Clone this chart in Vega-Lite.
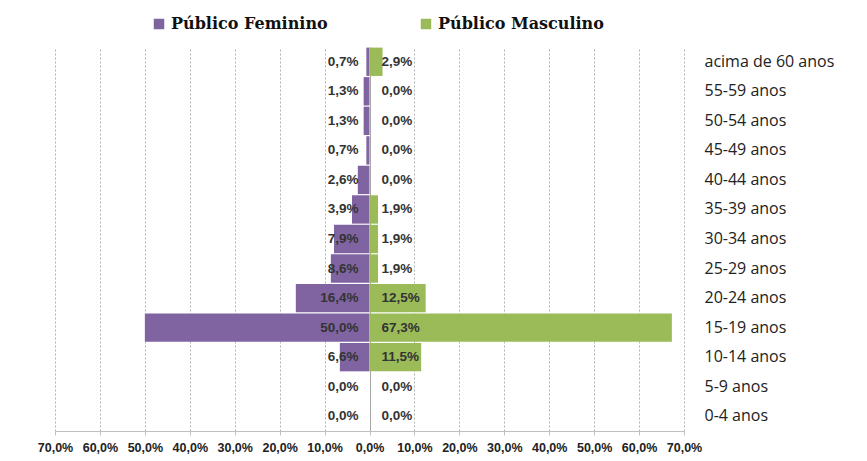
{
  "$schema": "https://vega.github.io/schema/vega-lite/v6.json",
  "width": 629,
  "height": 384,
  "autosize": {"type": "none"},
  "padding": {"left": 55, "top": 47, "right": 183, "bottom": 30},
  "background": "white",
  "config": {"view": {"stroke": null}},
  "data": {
    "values": [
      {"faixa": "acima de 60 anos", "sexo": "Público Feminino", "pct": -0.7, "rotulo": "0,7%"},
      {"faixa": "55-59 anos", "sexo": "Público Feminino", "pct": -1.3, "rotulo": "1,3%"},
      {"faixa": "50-54 anos", "sexo": "Público Feminino", "pct": -1.3, "rotulo": "1,3%"},
      {"faixa": "45-49 anos", "sexo": "Público Feminino", "pct": -0.7, "rotulo": "0,7%"},
      {"faixa": "40-44 anos", "sexo": "Público Feminino", "pct": -2.6, "rotulo": "2,6%"},
      {"faixa": "35-39 anos", "sexo": "Público Feminino", "pct": -3.9, "rotulo": "3,9%"},
      {"faixa": "30-34 anos", "sexo": "Público Feminino", "pct": -7.9, "rotulo": "7,9%"},
      {"faixa": "25-29 anos", "sexo": "Público Feminino", "pct": -8.6, "rotulo": "8,6%"},
      {"faixa": "20-24 anos", "sexo": "Público Feminino", "pct": -16.4, "rotulo": "16,4%"},
      {"faixa": "15-19 anos", "sexo": "Público Feminino", "pct": -50.0, "rotulo": "50,0%"},
      {"faixa": "10-14 anos", "sexo": "Público Feminino", "pct": -6.6, "rotulo": "6,6%"},
      {"faixa": "5-9 anos", "sexo": "Público Feminino", "pct": 0.0, "rotulo": "0,0%"},
      {"faixa": "0-4 anos", "sexo": "Público Feminino", "pct": 0.0, "rotulo": "0,0%"},
      {"faixa": "acima de 60 anos", "sexo": "Público Masculino", "pct": 2.9, "rotulo": "2,9%"},
      {"faixa": "55-59 anos", "sexo": "Público Masculino", "pct": 0.0, "rotulo": "0,0%"},
      {"faixa": "50-54 anos", "sexo": "Público Masculino", "pct": 0.0, "rotulo": "0,0%"},
      {"faixa": "45-49 anos", "sexo": "Público Masculino", "pct": 0.0, "rotulo": "0,0%"},
      {"faixa": "40-44 anos", "sexo": "Público Masculino", "pct": 0.0, "rotulo": "0,0%"},
      {"faixa": "35-39 anos", "sexo": "Público Masculino", "pct": 1.9, "rotulo": "1,9%"},
      {"faixa": "30-34 anos", "sexo": "Público Masculino", "pct": 1.9, "rotulo": "1,9%"},
      {"faixa": "25-29 anos", "sexo": "Público Masculino", "pct": 1.9, "rotulo": "1,9%"},
      {"faixa": "20-24 anos", "sexo": "Público Masculino", "pct": 12.5, "rotulo": "12,5%"},
      {"faixa": "15-19 anos", "sexo": "Público Masculino", "pct": 67.3, "rotulo": "67,3%"},
      {"faixa": "10-14 anos", "sexo": "Público Masculino", "pct": 11.5, "rotulo": "11,5%"},
      {"faixa": "5-9 anos", "sexo": "Público Masculino", "pct": 0.0, "rotulo": "0,0%"},
      {"faixa": "0-4 anos", "sexo": "Público Masculino", "pct": 0.0, "rotulo": "0,0%"}
    ]
  },
  "encoding": {
    "y": {
      "field": "faixa",
      "type": "nominal",
      "sort": ["acima de 60 anos", "55-59 anos", "50-54 anos", "45-49 anos", "40-44 anos", "35-39 anos", "30-34 anos", "25-29 anos", "20-24 anos", "15-19 anos", "10-14 anos", "5-9 anos", "0-4 anos"],
      "scale": {"paddingInner": 0.04, "paddingOuter": 0.02},
      "axis": {
        "orient": "right",
        "title": null,
        "domain": false,
        "ticks": false,
        "labelPadding": 20,
        "labelFont": "Open Sans",
        "labelFontSize": 16,
        "labelColor": "#222222"
      }
    }
  },
  "layer": [
    {
      "mark": {"type": "bar"},
      "encoding": {
        "x": {
          "field": "pct",
          "type": "quantitative",
          "stack": null,
          "scale": {"domain": [-70, 70], "nice": false, "zero": false},
          "axis": {
            "title": null,
            "values": [-70, -60, -50, -40, -30, -20, -10, 0, 10, 20, 30, 40, 50, 60, 70],
            "labelExpr": "replace(format(abs(datum.value), '.1f'), '.', ',') + '%'",
            "labelOverlap": false,
            "labelFlush": false,
            "labelBound": false,
            "labelFont": "Liberation Sans",
            "labelFontSize": 12.5,
            "labelFontWeight": "bold",
            "labelColor": "#222222",
            "labelPadding": 6,
            "domainColor": "#bfbfbf",
            "tickColor": "#bfbfbf",
            "tickSize": 4,
            "grid": true,
            "gridColor": {"condition": {"test": "datum.value === 0", "value": "#a6a6a6"}, "value": "#b3b3b3"},
            "gridDash": {"condition": {"test": "datum.value === 0", "value": []}, "value": [2, 2]},
            "gridWidth": 1
          }
        },
        "color": {
          "field": "sexo",
          "type": "nominal",
          "scale": {"domain": ["Público Feminino", "Público Masculino"], "range": ["#8064A2", "#9BBB59"]},
          "legend": {
            "title": null,
            "orient": "none",
            "direction": "horizontal",
            "legendX": 96,
            "legendY": -31,
            "symbolType": "square",
            "symbolSize": 110,
            "symbolStrokeWidth": 0,
            "symbolOpacity": 1,
            "labelFont": "DejaVu Serif",
            "labelFontSize": 16,
            "labelFontWeight": "bold",
            "labelColor": "#111111",
            "labelLimit": 400,
            "labelOffset": 4,
            "columnPadding": 90
          }
        }
      }
    },
    {
      "transform": [{"filter": "datum.sexo === 'Público Feminino'"}],
      "mark": {"type": "text", "align": "right", "baseline": "middle", "dx": -11, "font": "Liberation Sans", "fontSize": 13.5, "fontWeight": "bold", "color": "#333333"},
      "encoding": {
        "x": {"datum": 0, "type": "quantitative"},
        "text": {"field": "rotulo"}
      }
    },
    {
      "transform": [{"filter": "datum.sexo === 'Público Masculino'"}],
      "mark": {"type": "text", "align": "left", "baseline": "middle", "dx": 12, "font": "Liberation Sans", "fontSize": 13.5, "fontWeight": "bold", "color": "#333333"},
      "encoding": {
        "x": {"datum": 0, "type": "quantitative"},
        "text": {"field": "rotulo"}
      }
    }
  ]
}
